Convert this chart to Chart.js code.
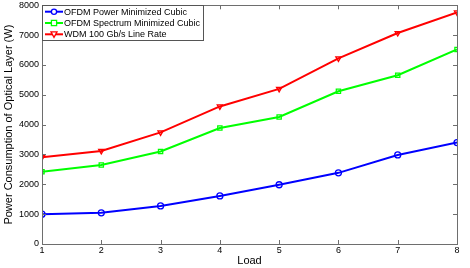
<!DOCTYPE html>
<html><head><meta charset="utf-8">
<script src="https://cdn.jsdelivr.net/npm/chart.js@4"></script>
<style>html,body{margin:0;padding:0;background:#fff}#wrap{width:470px;height:268px}</style>
</head><body><div id="wrap"><canvas id="c" width="470" height="268"></canvas></div>
<script>
const loads = [1,2,3,4,5,6,7,8];
const ofdmPower = [1000,1045,1275,1610,1985,2385,2985,3400];
const ofdmSpectrum = [2420,2650,3100,3885,4255,5120,5655,6520];
const wdm = [2910,3120,3740,4610,5200,6220,7070,7760];
const yTicks = [0,1000,2000,3000,4000,5000,6000,7000,8000];
const seriesNames = ['OFDM Power Minimized Cubic','OFDM Spectrum Minimized Cubic','WDM 100 Gb/s Line Rate'];

const FONT = 'Liberation Sans, Arial, sans-serif';

const boxTicks = {
  id:'boxTicks',
  afterDraw(chart){
    const ctx = chart.ctx, a = chart.chartArea, xs = chart.scales.x, ys = chart.scales.y;
    ctx.save();
    ctx.strokeStyle = '#6e6e6e'; ctx.lineWidth = 1;
    ctx.strokeRect(Math.round(a.left)+0.5, Math.round(a.top)+0.5, Math.round(a.right-a.left), Math.round(a.bottom-a.top));
    ctx.beginPath();
    loads.forEach(v=>{const px=Math.round(xs.getPixelForValue(v))+0.5;
      ctx.moveTo(px,a.bottom);ctx.lineTo(px,a.bottom-4);ctx.moveTo(px,a.top);ctx.lineTo(px,a.top+4);});
    yTicks.forEach(v=>{const py=Math.round(ys.getPixelForValue(v))+0.5;
      ctx.moveTo(a.left,py);ctx.lineTo(a.left+4,py);ctx.moveTo(a.right,py);ctx.lineTo(a.right-4,py);});
    ctx.stroke();
    // legend
    const lx=Math.round(a.left), ly=Math.round(a.top), lw=161, lh=35;
    ctx.fillStyle='#fff'; ctx.fillRect(lx,ly,lw,lh);
    ctx.strokeStyle='#555'; ctx.strokeRect(lx+0.5,ly+0.5,lw,lh);
    ctx.font = '9px '+FONT; ctx.textBaseline='middle'; ctx.textAlign='left';
    chart.data.datasets.forEach((ds,i)=>{
      const yy = ly+6.7+i*11.3;
      ctx.strokeStyle=ds.borderColor; ctx.lineWidth=2;
      ctx.beginPath(); ctx.moveTo(lx+3,yy); ctx.lineTo(lx+21,yy); ctx.stroke();
      ctx.lineWidth=1.3;
      const mx=lx+12;
      ctx.beginPath();
      if(ds.pointStyle==='circle'){ctx.arc(mx,yy,2.6,0,Math.PI*2);}
      else if(ds.pointStyle==='rect'){ctx.rect(mx-2.6,yy-2.6,5.2,5.2);}
      else {ctx.moveTo(mx-3,yy-2.5);ctx.lineTo(mx+3,yy-2.5);ctx.lineTo(mx,yy+3);ctx.closePath();}
      ctx.fillStyle='#fff'; ctx.fill(); ctx.stroke();
      ctx.fillStyle='#000'; ctx.fillText(ds.label, lx+22, yy+0.5);
    });
    ctx.restore();
  }
};

const mk = (label,data,color,style,rot)=>({label,data:loads.map((x,i)=>({x,y:data[i]})),borderColor:color,backgroundColor:'#fff',
  borderWidth:2,pointStyle:style,pointRotation:rot,pointRadius:3,pointBorderWidth:1.3,pointBorderColor:color,pointBackgroundColor:'rgba(255,255,255,0)',tension:0});

new Chart(document.getElementById('c'),{
  type:'line',
  data:{datasets:[
    mk(seriesNames[0],ofdmPower,'#0000ff','circle',0),
    mk(seriesNames[1],ofdmSpectrum,'#00ff00','rect',0),
    mk(seriesNames[2],wdm,'#ff0000','triangle',180)
  ]},
  options:{
    responsive:false,animation:false,
    layout:{padding:{top:4,right:13,left:0,bottom:0}},
    plugins:{legend:{display:false},tooltip:{enabled:false}},
    scales:{
      x:{type:'linear',min:1,max:8,
        afterBuildTicks(s){s.ticks=loads.map(v=>({value:v}));},
        grid:{display:false,drawTicks:false,tickLength:0},border:{display:false},
        ticks:{color:'#000',font:{family:FONT,size:9},padding:1,maxRotation:0,callback:v=>String(v)},
        title:{display:true,text:'Load',color:'#000',font:{family:FONT,size:11},padding:{top:0,bottom:0}},
        afterFit(s){s.height=24;s.paddingLeft=0;s.paddingRight=0;}
      },
      y:{min:0,max:8000,
        afterBuildTicks(s){s.ticks=yTicks.map(v=>({value:v}));},
        grid:{display:false,drawTicks:false,tickLength:0},border:{display:false},
        ticks:{color:'#000',font:{family:FONT,size:9},padding:3,callback:v=>String(v)},
        title:{display:true,text:'Power Consumption of Optical Layer (W)',color:'#000',font:{family:FONT,size:11},padding:{top:2,bottom:0}},
        afterFit(s){s.width=42;s.paddingTop=0;s.paddingBottom=0;}
      }
    }
  },
  plugins:[boxTicks]
});
</script></body></html>
